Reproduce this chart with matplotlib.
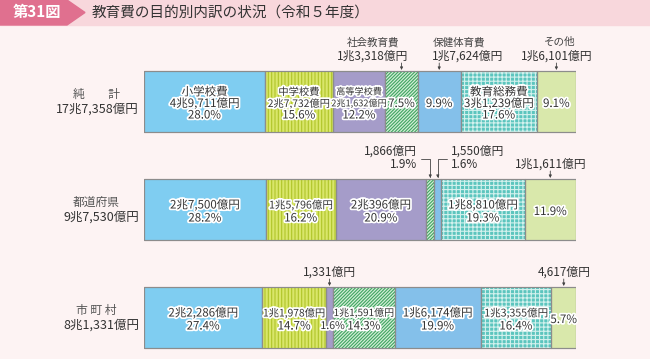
import matplotlib
matplotlib.use("Agg")
import matplotlib.pyplot as plt
from matplotlib import patheffects as pe
from matplotlib.patches import Rectangle, Polygon

plt.rcParams['font.family'] = ['Noto Sans CJK JP', 'DejaVu Sans']
plt.rcParams['hatch.linewidth'] = 0.8

# データ（億円）
categories = ['小学校費', '中学校費', '高等学校費', '社会教育費', '保健体育費', '教育総務費', 'その他']
rows = ['純　　計', '都道府県', '市 町 村']
totals = [177358, 97530, 81331]
vals_total = [49711, 27732, 21632, 13318, 17624, 31239, 16101]
vals_pref = [27500, 15796, 20396, 1866, 1550, 18810, 11611]
vals_city = [22286, 11978, 1331, 11591, 16174, 13355, 4617]
pct_total = [28.0, 15.6, 12.2, 7.5, 9.9, 17.6, 9.1]
pct_pref = [28.2, 16.2, 20.9, 1.9, 1.6, 19.3, 11.9]
pct_city = [27.4, 14.7, 1.6, 14.3, 19.9, 16.4, 5.7]

values = [vals_total, vals_pref, vals_city]
pcts = [pct_total, pct_pref, pct_city]

# ラベルの出し方（name:3行 val:2行 up:上に金額 lead:引出線）
modes = [['name', 'name', 'name', 'up', 'up', 'name', 'up'],
         ['val', 'val', 'val', 'lead_l', 'lead_r', 'val', 'up'],
         ['val', 'val', 'up', 'val', 'val', 'val', 'up']]
# 幅の狭い区分は詰めた文字で
narrow = [[0, 7.4, 6.6, 0, 0, 0, 0],
          [0, 7.6, 0, 0, 0, 0, 0],
          [0, 7.4, 0, 7.2, 0, 7.6, 0]]

# 色・模様
face = ['#7fcdf1', '#d9e66a', '#a59cc9', '#d2eed6', '#84c0ea', '#5cc5be', '#d9e8ab']
hatch = [None, '|' * 5, None, '/' * 10, None, '+' * 4, None]
hcol = [None, '#b0c52a', None, '#3fa460', None, '#d2f1ed', None]
edge = '#8c8c8c'
dark = '#333333'


def oku(v):
    cho, rest = divmod(v, 10000)
    if cho:
        return f"{cho}兆{rest:,}億円"
    return f"{rest:,}億円"


W, H = 650, 359
fig = plt.figure(figsize=(6.5, 3.59), dpi=100, facecolor='#fdf3f3')

# タイトル帯
band = 25
fig.patches.append(Rectangle((0, 1 - band / H), 1, band / H, transform=fig.transFigure,
                             color='#f8d7dc', zorder=0))
box = [(0, 0), (67, 0), (85, band / 2), (67, band), (0, band)]
fig.patches.append(Polygon([(x / W, 1 - y / H) for x, y in box], closed=True,
                           transform=fig.transFigure, color='#e0708f', zorder=1))
fig.text(37 / W, 1 - 12.5 / H, '第31図', color='white', fontsize=11, fontweight='bold',
         ha='center', va='center')
fig.text(92 / W, 1 - 13 / H, '教育費の目的別内訳の状況（令和５年度）', color=dark,
         fontsize=10.5, ha='left', va='center')

ax = fig.add_axes([144 / W, 0, 432 / W, 1])
ax.set_xlim(0, 100)
ax.set_ylim(H, 0)
ax.axis('off')
PX = 100 / 432

row_c = [101.5, 209.5, 317.5]
bar_h = 61
halo = [pe.withStroke(linewidth=2.5, foreground='white')]
fs = 8.3


def label(x, y, s, small=0, **kw):
    if small:
        kw.setdefault('family', ['Liberation Sans Narrow', 'Noto Sans CJK JP'])
        kw.setdefault('fontsize', small)
    kw.setdefault('fontsize', fs)
    kw.setdefault('ha', 'center')
    ax.text(x, y, s, va='center', color=dark, path_effects=halo, **kw)


def arrow(x, y0, y1):
    ax.annotate('', xy=(x, y1), xytext=(x, y0),
                arrowprops=dict(arrowstyle='-|>', color='#444444', lw=0.6,
                                mutation_scale=4, shrinkA=0, shrinkB=0))


# 上に出す金額の位置（純計のみ左右にずらす）
up_pos = {(0, 3): ('right', -2, 7), (0, 4): ('left', -7, -7), (0, 6): ('center', 3, 0)}

for i, (vals, pc) in enumerate(zip(values, pcts)):
    s = sum(vals)
    widths = [v / s * 100 for v in vals]
    lefts = [sum(widths[:k]) for k in range(len(widths))]
    ax.barh(row_c[i], widths, left=lefts, height=bar_h, color=face,
            edgecolor=edge, linewidth=0.8)
    for k in range(len(vals)):
        if hatch[k]:
            ax.barh(row_c[i], widths[k], left=lefts[k], height=bar_h, facecolor='none',
                    edgecolor=hcol[k], hatch=hatch[k], linewidth=0)
    ax.barh(row_c[i], widths, left=lefts, height=bar_h, fill=False,
            edgecolor=edge, linewidth=0.8)

    # 左側の見出し
    fig.text(96 / W, 1 - (row_c[i] - 7) / H, rows[i], color='#555555', fontsize=8.5,
             ha='center', va='center')
    fig.text(139 / W, 1 - (row_c[i] + 7.5) / H, oku(totals[i]), color=dark, fontsize=9,
             ha='right', va='center')

    top = row_c[i] - bar_h / 2
    yc = row_c[i] + 2
    for k in range(len(vals)):
        cx = lefts[k] + widths[k] / 2
        m = modes[i][k]
        sm = narrow[i][k]
        ptxt = f"{pc[k]:.1f}%"
        if m == 'name':
            label(cx, yc - 11.5, categories[k], fontsize=sm or fs)
            label(cx, yc, oku(vals[k]), small=sm)
            label(cx, yc + 11.5, ptxt)
        elif m == 'val':
            label(cx, yc - 6.5, oku(vals[k]), small=sm)
            label(cx, yc + 6.5, ptxt)
        elif m == 'up':
            arrow(cx, top - 8, top - 1)
            if i == 0:
                ha, dn, dv = up_pos[(i, k)]
                ax.text(cx + dn * PX, top - 29, categories[k], ha=ha, va='center',
                        color='#444444', fontsize=7.6)
                ax.text(cx + dv * PX, top - 15, oku(vals[k]), ha=ha, va='center',
                        color=dark, fontsize=8.5)
            else:
                ax.text(cx, top - 15, oku(vals[k]), ha='center', va='center',
                        color=dark, fontsize=8.5)
            if widths[k] < 3:
                label(cx + 3 * PX, yc + 6.5, ptxt, fontsize=7.6)
            else:
                label(cx, yc, ptxt)
        else:
            sign = -1 if m == 'lead_l' else 1
            ha = 'right' if sign < 0 else 'left'
            tx = cx + sign * 13 * PX
            ax.text(tx, top - 28, oku(vals[k]), ha=ha, va='center', color=dark, fontsize=8.5)
            ax.text(tx, top - 15, ptxt, ha=ha, va='center', color=dark, fontsize=8.5)
            ax.annotate('', xy=(cx, top - 1), xytext=(cx + sign * 9 * PX, top - 20),
                        arrowprops=dict(arrowstyle='-|>', color='#444444', lw=0.6,
                                        mutation_scale=4, shrinkA=0, shrinkB=0,
                                        connectionstyle='angle,angleA=0,angleB=90,rad=0'))

fig.savefig('out.png', dpi=100, facecolor=fig.get_facecolor())
